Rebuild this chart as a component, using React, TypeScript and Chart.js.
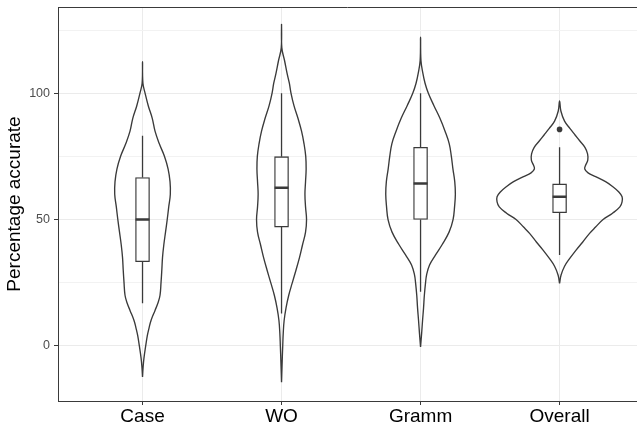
import React, { useEffect, useRef } from 'react';
import { Chart, registerables } from 'chart.js';

Chart.register(...registerables);

const FONT = "'Liberation Sans', Arial, Helvetica, sans-serif";
const INK = '#3a3a3a';

const categories = ['Case', 'WO', 'Gramm', 'Overall'];
const yTickValues = [0, 25, 50, 75, 100, 125];

// Violin outlines: value levels (top to bottom) and relative density half-widths
const caseLevels = [112.5, 104, 100, 95, 90, 85, 80, 75, 70, 65, 60, 55, 50, 45, 40, 35, 30, 25, 20, 17, 14, 10, 7, 4, 0, -5, -9, -12.4];
const caseDensity = [0, 0.4, 2.6, 5.8, 9.8, 12.5, 16.8, 22, 25.6, 27.5, 27.8, 26.2, 24.7, 23, 21.3, 20, 19.3, 18.5, 17.5, 15.5, 12.5, 8.5, 6.5, 4.8, 3.2, 1.4, 0.5, 0];

const woLevels = [127.3, 118, 113, 108, 104, 100, 95, 90, 85, 80, 75, 70, 65, 60, 55, 50, 45, 40, 35, 30, 25, 20, 15, 10, 5, 0, -8, -14.5];
const woDensity = [0, 0.3, 3, 5.5, 7.8, 9.5, 12.5, 16.5, 20, 22.5, 24.2, 24.6, 24, 23.4, 24, 25, 24, 21, 18, 14.5, 10.8, 7.2, 4.5, 2.6, 1.7, 1.2, 0.5, 0];

const grammLevels = [122.2, 113, 108, 104, 100, 95, 90, 85, 80, 75, 70, 65, 60, 55, 50, 45, 40, 36, 32, 28, 25, 20, 15, 10, 5, -0.5];
const grammDensity = [0, 0.4, 2.3, 4.5, 7.8, 13.5, 19.5, 24.5, 28.7, 30.8, 32.4, 34.2, 34.8, 34, 32.5, 28.5, 21.5, 15, 9, 6, 5, 3.8, 3, 2, 1.1, 0];

const overallLevels = [97, 93, 89, 86, 83.5, 81, 78.5, 76, 73.5, 71.5, 70, 68.5, 67, 65, 63, 61, 59, 57, 55, 52.5, 50, 47, 44.5, 41, 38, 34.5, 31.5, 28, 24.7];
const overallDensity = [0, 1.3, 5, 10.5, 15.5, 20.5, 25.5, 28, 28.2, 26, 25.2, 28.5, 36, 46, 53.3, 59, 62.5, 62.5, 60.3, 53, 43.5, 36, 30, 23, 16.7, 10, 5, 1.5, 0];

// Boxplot statistics
const boxQ1 = [33.3, 47, 50, 52.7];
const boxMedian = [50, 62.6, 64.3, 59];
const boxQ3 = [66.6, 74.9, 78.6, 64.1];
const whiskerLow = [16.8, 12.8, 21.4, 35.9];
const whiskerHigh = [83.2, 100, 100, 78.6];
const outlierGroup = [4];
const outlierValue = [85.7];

const DENSITY_TO_X = 1 / 139;
const BOX_HALF = 0.05;

function violinPoints(pos: number, levels: number[], dens: number[]) {
  const pts: { x: number; y: number }[] = [];
  const n = levels.length;
  for (let i = n - 1; i >= 0; i--) pts.push({ x: pos + dens[i] * DENSITY_TO_X, y: levels[i] });
  for (let i = 1; i < n; i++) pts.push({ x: pos - dens[i] * DENSITY_TO_X, y: levels[i] });
  return pts;
}

const topBorder = {
  id: 'topBorder',
  afterDraw(chart: any) {
    const { ctx, chartArea } = chart;
    ctx.save();
    ctx.strokeStyle = INK;
    ctx.lineWidth = 1;
    ctx.beginPath();
    ctx.moveTo(chartArea.left, Math.round(chartArea.top) + 0.5);
    ctx.lineTo(chartArea.right, Math.round(chartArea.top) + 0.5);
    ctx.stroke();
    ctx.restore();
  },
};

export default function App() {
  const ref = useRef<HTMLCanvasElement | null>(null);

  useEffect(() => {
    if (!ref.current) return;
    const violins = [
      violinPoints(1, caseLevels, caseDensity),
      violinPoints(2, woLevels, woDensity),
      violinPoints(3, grammLevels, grammDensity),
      violinPoints(4, overallLevels, overallDensity),
    ];
    const whiskerData: any[] = [];
    const medianData: any[] = [];
    categories.forEach((_, i) => {
      const p = i + 1;
      whiskerData.push({ x: p, y: boxQ3[i] }, { x: p, y: whiskerHigh[i] }, { x: p, y: null });
      whiskerData.push({ x: p, y: whiskerLow[i] }, { x: p, y: boxQ1[i] }, { x: p, y: null });
      medianData.push({ x: p - BOX_HALF, y: boxMedian[i] }, { x: p + BOX_HALF, y: boxMedian[i] }, { x: p, y: null });
    });

    const datasets: any[] = violins.map((pts, i) => ({
      type: 'line',
      label: categories[i],
      data: pts,
      borderColor: INK,
      borderWidth: 1.35,
      backgroundColor: 'transparent',
      pointRadius: 0,
      tension: 0.4,
      fill: false,
      order: 5,
    }));
    datasets.push({
      type: 'line',
      label: 'whiskers',
      data: whiskerData,
      borderColor: INK,
      borderWidth: 1.3,
      pointRadius: 0,
      tension: 0,
      spanGaps: false,
      order: 4,
    });
    datasets.push({
      type: 'bar',
      label: 'box',
      data: categories.map((_, i) => ({ x: i + 1, y: [boxQ1[i], boxQ3[i]] })),
      backgroundColor: '#FFFFFF',
      borderColor: INK,
      borderWidth: 1.3,
      borderSkipped: false,
      barThickness: 14,
      order: 3,
    });
    datasets.push({
      type: 'line',
      label: 'median',
      data: medianData,
      borderColor: INK,
      borderWidth: 2.6,
      pointRadius: 0,
      tension: 0,
      spanGaps: false,
      order: 2,
    });
    datasets.push({
      type: 'scatter',
      label: 'outliers',
      data: outlierGroup.map((g, i) => ({ x: g, y: outlierValue[i] })),
      backgroundColor: INK,
      borderWidth: 0,
      pointRadius: 2.8,
      order: 1,
    });

    const chart = new Chart(ref.current, {
      type: 'scatter',
      data: { datasets },
      plugins: [topBorder],
      options: {
        animation: false,
        responsive: false,
        events: [],
        layout: { autoPadding: false, padding: { top: 7, left: 0, right: 0, bottom: 0 } },
        plugins: { legend: { display: false }, tooltip: { enabled: false } },
        scales: {
          x: {
            type: 'linear',
            offset: false,
            min: 0.392,
            max: 4.557,
            afterBuildTicks: (s: any) => {
              s.ticks = categories.map((_, i) => ({ value: i + 1 }));
            },
            afterFit: (s: any) => {
              s.height = 23;
              s.paddingLeft = 0;
              s.paddingRight = 0;
            },
            ticks: {
              autoSkip: false,
              maxRotation: 0,
              padding: 0,
              color: '#000000',
              font: { family: FONT, size: 19 },
              callback: (v: any) => categories[Math.round(Number(v)) - 1] ?? '',
            },
            grid: { offset: false, color: '#EBEBEB', lineWidth: 1, tickLength: 4, tickColor: INK, tickWidth: 1 },
            border: { display: true, color: INK, width: 1 },
          },
          y: {
            type: 'linear',
            min: -21.9,
            max: 134.2,
            afterBuildTicks: (s: any) => {
              s.ticks = yTickValues.map((v) => ({ value: v }));
            },
            afterFit: (s: any) => {
              s.width = 58;
              s.paddingTop = 0;
              s.paddingBottom = 0;
            },
            ticks: {
              autoSkip: false,
              padding: 4,
              color: '#4D4D4D',
              font: { family: FONT, size: 12.5 },
              callback: (v: any) => (Number(v) % 50 === 0 ? String(v) : ''),
            },
            grid: {
              color: (c: any) => (c.tick && c.tick.value % 50 === 0 ? '#EBEBEB' : '#F2F2F2'),
              lineWidth: 1,
              tickLength: 4,
              tickColor: (c: any) => (c.tick && c.tick.value % 50 === 0 ? INK : 'rgba(0,0,0,0)'),
              tickWidth: 1,
            },
            border: { display: true, color: INK, width: 1 },
            title: {
              display: true,
              text: 'Percentage accurate',
              color: '#000000',
              font: { family: FONT, size: 19 },
              padding: { top: 3.6, bottom: 0 },
            },
          },
        },
      } as any,
    });
    return () => chart.destroy();
  }, []);

  return (
    <div style={{ position: 'fixed', left: 0, top: 0, width: 637, height: 424, background: '#fff' }}>
      <canvas ref={ref} width={637} height={424} style={{ display: 'block' }} />
    </div>
  );
}
